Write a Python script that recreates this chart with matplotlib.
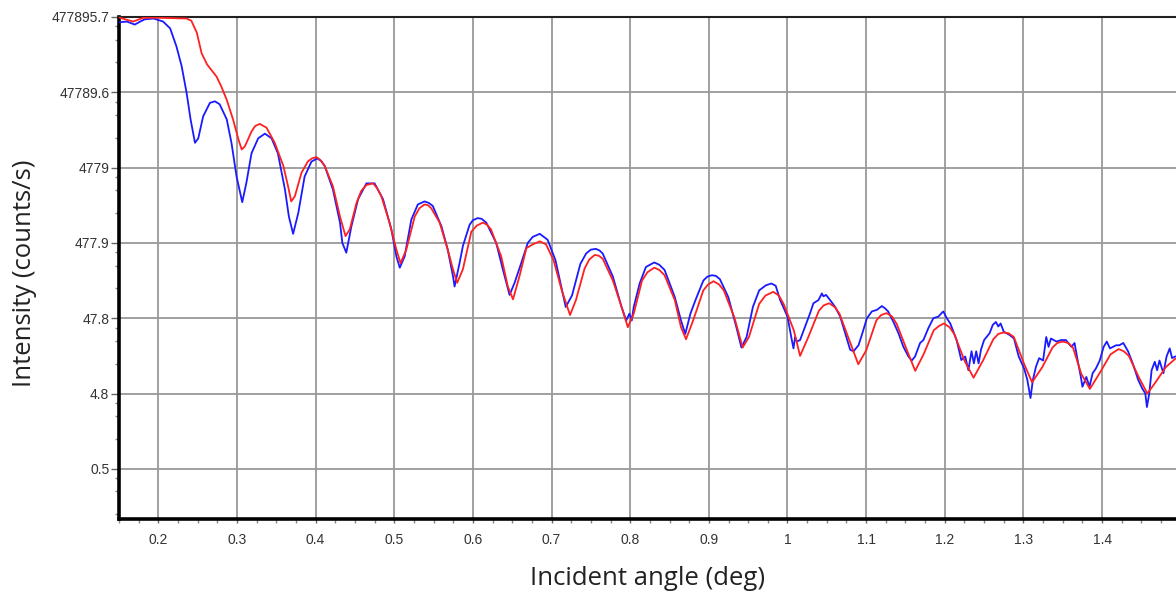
import matplotlib
matplotlib.use('Agg')
import matplotlib.pyplot as plt
from matplotlib.ticker import FixedLocator, FixedFormatter

# measured curve (blue)
meas_x = [0.151, 0.160, 0.170, 0.177, 0.183, 0.194, 0.206, 0.215, 0.223, 0.2296,
          0.236, 0.241, 0.2466, 0.2508, 0.257, 0.2656, 0.272, 0.278, 0.287, 0.293,
          0.2995, 0.3067, 0.312, 0.3185, 0.327, 0.3355, 0.344, 0.352, 0.361, 0.366,
          0.3714, 0.378, 0.386, 0.3947, 0.402, 0.407, 0.4116, 0.422, 0.431, 0.434, 0.439,
          0.4455, 0.454, 0.4646, 0.475, 0.4857, 0.4963, 0.5027, 0.507, 0.5132, 0.5217,
          0.530, 0.5386, 0.544, 0.549, 0.560, 0.568, 0.5746, 0.5767, 0.583, 0.5873, 0.5958,
          0.600, 0.606, 0.611, 0.617, 0.6296, 0.638, 0.6466, 0.653, 0.6614, 0.6698, 0.676, 0.685,
          0.695, 0.705, 0.718, 0.726, 0.7366, 0.744, 0.750, 0.7564, 0.761, 0.765, 0.778, 0.789,
          0.795, 0.799, 0.802, 0.8045, 0.812, 0.820, 0.8306, 0.837, 0.8437, 0.8567, 0.8646,
          0.870, 0.8766, 0.883, 0.893, 0.898, 0.904, 0.909, 0.914, 0.9247, 0.935, 0.9414, 0.948,
          0.956, 0.964, 0.9727, 0.9795, 0.985,
          0.9907, 1.000, 1.0055, 1.0076, 1.0097, 1.0118, 1.016, 1.0224, 1.0288, 1.033,
          1.0394, 1.0437, 1.0457, 1.049, 1.0542, 1.0606, 1.067, 1.0733, 1.0797, 1.084,
          1.0903, 1.0946, 1.101, 1.1073, 1.1137, 1.120, 1.1241, 1.128, 1.1347, 1.1411,
          1.1474, 1.1538, 1.158, 1.1622, 1.1686, 1.1728, 1.1792, 1.1855, 1.1919, 1.196,
          1.1982, 1.2025, 1.207, 1.215, 1.221, 1.226, 1.230, 1.234, 1.237, 1.240,
          1.243, 1.246, 1.250, 1.257, 1.261, 1.265, 1.268, 1.271, 1.275, 1.282,
          1.288, 1.294, 1.301, 1.305, 1.309, 1.312, 1.316, 1.320, 1.325, 1.329,
          1.332, 1.335, 1.342, 1.348, 1.354, 1.361, 1.365, 1.369, 1.373, 1.375,
          1.380, 1.384, 1.388, 1.392, 1.397, 1.402, 1.406, 1.410, 1.414, 1.418,
          1.422, 1.427, 1.433, 1.439, 1.446, 1.451, 1.455, 1.457, 1.460, 1.463,
          1.467, 1.470, 1.473, 1.478, 1.482, 1.486, 1.489, 1.493]
meas_y = [407000, 416000, 379000, 416000, 446000, 456000, 416000, 338000, 195000, 107000,
          46700, 20900, 10200, 11700, 22900, 34600, 36300, 33100, 20900, 10200,
          3630, 1660, 3020, 7410, 11700, 13500, 11700, 7410, 2450, 1070,
          631, 1200, 3630, 5740, 6310, 5880, 5020, 2450, 889, 478, 354,
          793, 1820, 2950, 2950, 1820, 722, 316, 224, 316, 975,
          1550, 1700, 1620, 1480, 793, 389, 174, 126, 257, 436, 832,
          956, 1020, 999, 889, 478, 214, 97.5, 141, 257, 478, 574, 631,
          526, 281, 67.4, 95.6, 251, 346, 389, 398, 379, 346, 170, 67.4,
          44.6, 55.0, 44.6, 67.4, 138, 229, 263, 245, 209, 91.3, 44.6,
          29.5, 55.0, 83.2, 151, 170, 178, 174, 158, 91.3, 36.3, 19.5, 26.9,
          67.4, 112, 131, 138, 129,
          83.2, 50.2, 24.5, 19.0, 26.9, 23.4, 24.5, 37.1, 55.9, 75.5,
          83.2, 102, 93.2, 97.5, 83.2, 67.4, 50.2, 30.2, 18.2, 17.4,
          20.9, 28.8, 47.8, 58.8, 61.7, 69.3, 64.5, 58.8, 42.6, 30.2,
          19.9, 14.8, 13.1, 14.8, 22.4, 24.5, 35.4, 47.8, 50.2, 55.9,
          58.8, 47.8, 40.7, 24.5, 13.3, 14.8, 9.75, 17.4, 12.0, 17.4,
          12.0, 18.2, 24.5, 30.2, 38.9, 42.6, 37.1, 40.7, 31.6, 28.8,
          25.7, 14.8, 10.2, 7.22, 4.16, 7.22, 10.9, 14.1, 13.1, 26.9,
          19.9, 25.7, 23.4, 24.5, 24.5, 19.9, 22.4, 13.1, 7.93, 5.88,
          7.93, 5.88, 8.89, 10.2, 13.1, 19.9, 23.4, 19.0, 19.9, 20.9,
          20.9, 22.4, 17.4, 12.0, 7.22, 5.59, 4.78, 3.16, 4.78, 9.75,
          12.6, 9.75, 13.1, 8.89, 14.8, 19.0, 14.1, 14.8]

# fitted curve (red)
fit_x = [0.151, 0.168, 0.181, 0.200, 0.236, 0.242, 0.249, 0.255, 0.262, 0.274,
         0.280, 0.287, 0.295, 0.302, 0.306, 0.310, 0.3185, 0.323, 0.329, 0.3376, 0.348,
         0.359, 0.365, 0.369, 0.3736, 0.382, 0.390, 0.395, 0.401, 0.406, 0.4116, 0.422, 0.431,
         0.438, 0.4434, 0.452, 0.458, 0.4646, 0.473, 0.478, 0.4836, 0.494, 0.5027, 0.508, 0.5153,
         0.526, 0.532, 0.5386, 0.543, 0.547, 0.5577, 0.568, 0.5746, 0.580, 0.5873, 0.598, 0.605,
         0.6127, 0.618, 0.623, 0.636, 0.6444, 0.651, 0.6593, 0.668, 0.676, 0.685, 0.693, 0.7026,
         0.713, 0.7235, 0.731, 0.742, 0.748, 0.755, 0.760, 0.765, 0.778, 0.789, 0.797, 0.8045,
         0.815, 0.822, 0.8306, 0.837, 0.8437, 0.8567, 0.8646, 0.871, 0.880, 0.893, 0.899, 0.906,
         0.913, 0.919, 0.9325, 0.943, 0.951, 0.964, 0.972, 0.982, 0.989, 0.995, 1.008, 1.016,
         1.0265, 1.040, 1.046, 1.053, 1.060, 1.066, 1.079, 1.090, 1.100, 1.113, 1.119, 1.126,
         1.133, 1.139, 1.152, 1.1624, 1.173, 1.186, 1.193, 1.199, 1.206, 1.212, 1.225, 1.2366,
         1.2486, 1.2617, 1.268, 1.2747, 1.281, 1.2878, 1.301, 1.311, 1.324, 1.337, 1.343, 1.350,
         1.357, 1.363, 1.3736, 1.3845, 1.3975, 1.4107, 1.421, 1.4275, 1.434, 1.447, 1.4576,
         1.468, 1.481, 1.493]
fit_y = [467000, 416000, 467000, 467000, 456000, 426000, 295000, 158000, 112000, 77400,
         57400, 37900, 20900, 11200, 8320, 9130, 14400, 17000, 18200, 16200, 10200,
         5020, 2690, 1700, 1990, 4070, 5740, 6310, 6600, 6020, 5020, 2690, 1070,
         588, 722, 1620, 2340, 2810, 2950, 2570, 1990, 889, 389, 257, 389,
         1070, 1380, 1550, 1510, 1380, 889, 389, 214, 141, 214, 674, 812,
         889, 832, 722, 316, 126, 85.1, 174, 407, 456, 502, 456, 281,
         112, 52.6, 83.2, 218, 288, 331, 323, 295, 151, 67.4, 36.3, 55.0,
         151, 195, 224, 209, 178, 83.2, 36.3, 25.1, 44.6, 112, 134, 148,
         134, 112, 48.7, 19.5, 26.9, 74.1, 95.6, 107, 95.6, 74.1, 33.1, 15.1,
         26.9, 60.2, 70.7, 75.5, 67.4, 55.0, 23.9, 11.7, 17.8, 44.6, 52.6, 55.9,
         50.2, 39.8, 17.8, 9.56, 15.8, 33.1, 37.9, 40.7, 36.3, 29.5, 13.1, 7.74,
         13.1, 25.1, 29.5, 30.9, 30.2, 26.9, 11.7, 6.74, 10.7, 19.5, 22.4, 23.4,
         22.4, 19.5, 8.70, 5.50, 9.13, 15.8, 18.6, 17.4, 15.1, 7.74, 4.78,
         6.74, 10.7, 13.8]

y_ticks = [477895.7, 47789.57, 4778.957, 477.8957, 47.78957, 4.778957, 0.4778957]
y_labels = ['477895.7', '47789.6', '4779', '477.9', '47.8', '4.8', '0.5']
x_ticks = [0.2, 0.3, 0.4, 0.5, 0.6, 0.7, 0.8, 0.9, 1.0, 1.1, 1.2, 1.3, 1.4]
x_labels = ['0.2', '0.3', '0.4', '0.5', '0.6', '0.7', '0.8', '0.9', '1', '1.1', '1.2', '1.3', '1.4']

fig = plt.figure(figsize=(11.76, 5.93), dpi=100)
ax = fig.add_axes([119/1176, 1 - 519/593, 1 - 119/1176, (519 - 17)/593])

ax.plot(meas_x, meas_y, color='#1a1aff', lw=1.3, zorder=3, solid_joinstyle='round')
ax.plot(fit_x, fit_y, color='#ff2020', lw=1.3, zorder=4, solid_joinstyle='round')

ax.set_yscale('log')
ax.set_xlim(0.15, 1.494)
ax.set_ylim(0.103, 477895.7)

ax.yaxis.set_major_locator(FixedLocator(y_ticks))
ax.yaxis.set_major_formatter(FixedFormatter(y_labels))
y_minor = [t * f for t in y_ticks for f in (0.25, 0.5, 0.75)]
ax.yaxis.set_minor_locator(FixedLocator(y_minor))
ax.yaxis.set_minor_formatter(FixedFormatter([]))
ax.xaxis.set_major_locator(FixedLocator(x_ticks))
ax.xaxis.set_major_formatter(FixedFormatter(x_labels))
x_minor = [0.15 + 0.025 * i for i in range(54)]
ax.xaxis.set_minor_locator(FixedLocator(x_minor))

ax.grid(True, which='major', color='#999999', lw=1.3)
ax.set_axisbelow(True)

for side in ['left', 'bottom']:
    ax.spines[side].set_linewidth(2.6)
    ax.spines[side].set_color('black')
ax.spines['top'].set_linewidth(1.5)
ax.spines['top'].set_color('#222222')
ax.spines['right'].set_visible(False)

ax.tick_params(axis='both', which='major', labelsize=10, labelcolor='#333333',
               colors='#666666', direction='out', width=1)
ax.tick_params(axis='y', which='major', length=6, pad=1)
ax.tick_params(axis='x', which='major', length=3, pad=7)
ax.tick_params(axis='both', which='minor', length=3, colors='#888888', width=1)
for lab in ax.get_xticklabels() + ax.get_yticklabels():
    lab.set_family('Liberation Sans')
    lab.set_color('#333333')

ax.set_xlabel('Incident angle (deg)', fontsize=18.5, family='Open Sans', color='#222222')
ax.set_ylabel('Intensity (counts/s)', fontsize=18.5, family='Open Sans', color='#222222')
ax.xaxis.set_label_coords(0.5, -0.094)
ax.yaxis.set_label_coords(-0.078, 0.49)

fig.savefig('out.png', dpi=100, facecolor='white')
